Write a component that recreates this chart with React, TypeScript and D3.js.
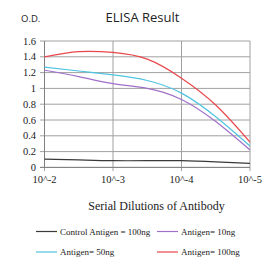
import React from "react";
import * as d3 from "d3";

const dilutions = [2, 2.5, 3, 3.5, 4, 4.5, 5];
const xTickExps = [2, 3, 4, 5];
const xTickLabels = ["10^-2", "10^-3", "10^-4", "10^-5"];
const yTicks = [0, 0.2, 0.4, 0.6, 0.8, 1, 1.2, 1.4, 1.6];

const control100 = [0.105, 0.095, 0.085, 0.085, 0.085, 0.07, 0.05];
const antigen10 = [1.23, 1.15, 1.06, 1.0, 0.86, 0.58, 0.22];
const antigen50 = [1.27, 1.22, 1.17, 1.1, 0.94, 0.64, 0.27];
const antigen100 = [1.4, 1.465, 1.455, 1.37, 1.13, 0.79, 0.32];

const seriesNames = ["Control Antigen = 100ng", "Antigen= 10ng", "Antigen= 50ng", "Antigen= 100ng"];
const seriesColors = ["#3a3a3a", "#a070c8", "#50c4e0", "#e8474c"];
const seriesData = [control100, antigen10, antigen50, antigen100];

export default function App() {
  const x = d3.scaleLinear().domain([2, 5]).range([44.5, 250]);
  const y = d3.scaleLinear().domain([0, 1.6]).range([167.4, 41]);
  const line = d3
    .line<number>()
    .x((_, i) => x(dilutions[i]))
    .y((d) => y(d))
    .curve(d3.curveNatural);
  const serif = "'Liberation Serif', 'DejaVu Serif', serif";
  const sans = "'Open Sans', 'Noto Sans', sans-serif";
  const legendPos = [
    [36, 231.5],
    [157, 231.5],
    [36, 252],
    [157, 252],
  ];
  return (
    <svg width={266} height={266} style={{ position: "absolute", left: 0, top: 0 }}>
      <rect width={266} height={266} fill="#fff" />
      <text x={142.5} y={22} fontFamily={sans} fontSize={13} textAnchor="middle" fill="#222">
        ELISA Result
      </text>
      <text x={21} y={22} fontFamily={sans} fontSize={9.5} fill="#222">
        O.D.
      </text>
      {yTicks.map((t) => (
        <g key={t}>
          <line x1={40} x2={250} y1={y(t)} y2={y(t)} stroke="#a0a0a0" strokeWidth={1} />
          <text x={36} y={y(t) + 3.5} fontFamily={serif} fontSize={10.5} textAnchor="end" fill="#222">
            {t}
          </text>
        </g>
      ))}
      {xTickExps.map((e, i) => (
        <g key={e}>
          <line x1={x(e)} x2={x(e)} y1={41} y2={171} stroke="#a0a0a0" strokeWidth={1} />
          <text x={x(e)} y={183} fontFamily={serif} fontSize={10.5} textAnchor="middle" fill="#222">
            {xTickLabels[i]}
          </text>
        </g>
      ))}
      <line x1={x(2)} x2={x(2)} y1={41} y2={167.4} stroke="#808080" />
      <line x1={40} x2={250} y1={y(0)} y2={y(0)} stroke="#808080" />
      {seriesData.map((d, i) => (
        <path key={i} d={line(d) || ""} fill="none" stroke={seriesColors[i]} strokeWidth={1.2} />
      ))}
      <text x={156.5} y={210} fontFamily={serif} fontSize={12} textAnchor="middle" fill="#222">
        Serial Dilutions of Antibody
      </text>
      {seriesNames.map((n, i) => (
        <g key={n}>
          <line
            x1={legendPos[i][0]}
            x2={legendPos[i][0] + 21}
            y1={legendPos[i][1]}
            y2={legendPos[i][1]}
            stroke={seriesColors[i]}
            strokeWidth={1.2}
          />
          <text x={legendPos[i][0] + 24} y={legendPos[i][1] + 3} fontFamily={serif} fontSize={9} fill="#222">
            {n}
          </text>
        </g>
      ))}
    </svg>
  );
}
